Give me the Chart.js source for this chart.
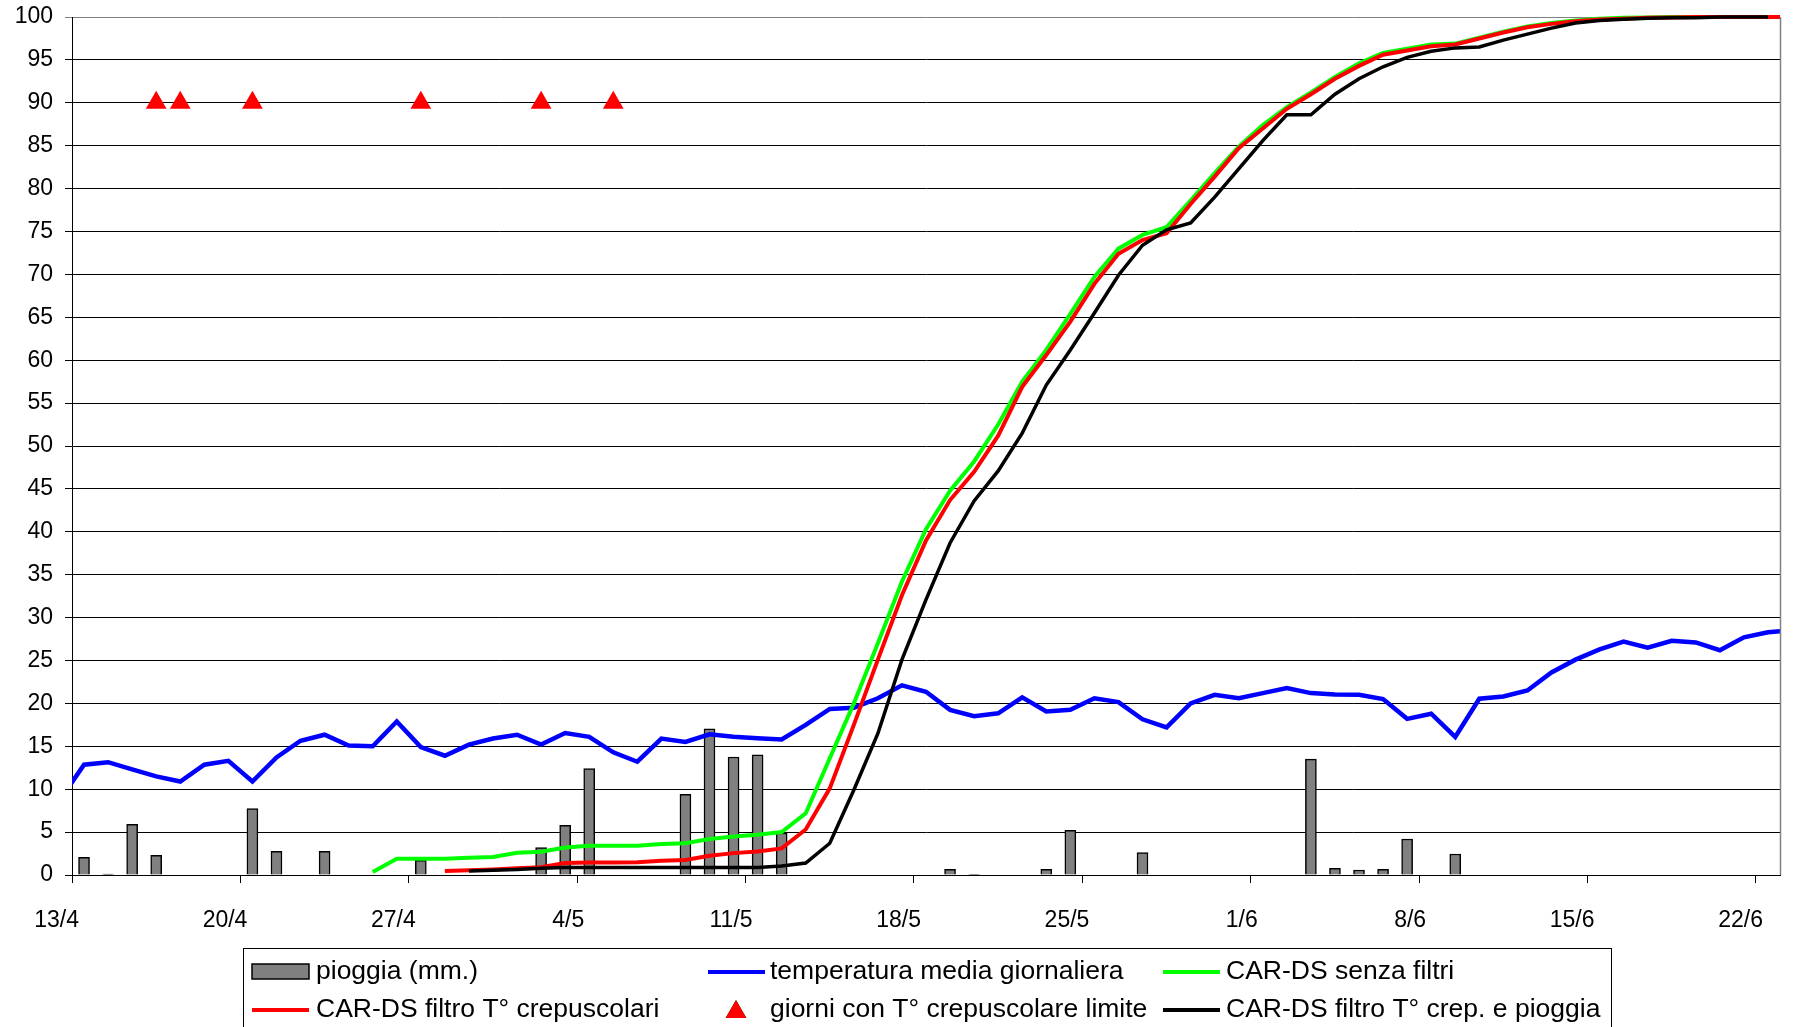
<!DOCTYPE html>
<html>
<head>
<meta charset="utf-8">
<script src="https://cdn.jsdelivr.net/npm/chart.js@4/dist/chart.umd.min.js"></script>
<style>
  html, body { margin: 0; padding: 0; background: #fff; }
  canvas { display: block; }
</style>
</head>
<body>
<canvas id="chart" width="1795" height="1027"></canvas>
<script>
// days, 12/4 .. 23/6 (each value is plotted in the middle of its day)
const dates = [
  '12/4','13/4','14/4','15/4','16/4','17/4','18/4','19/4','20/4','21/4',
  '22/4','23/4','24/4','25/4','26/4','27/4','28/4','29/4','30/4','1/5',
  '2/5','3/5','4/5','5/5','6/5','7/5','8/5','9/5','10/5','11/5',
  '12/5','13/5','14/5','15/5','16/5','17/5','18/5','19/5','20/5','21/5',
  '22/5','23/5','24/5','25/5','26/5','27/5','28/5','29/5','30/5','31/5',
  '1/6','2/6','3/6','4/6','5/6','6/6','7/6','8/6','9/6','10/6',
  '11/6','12/6','13/6','14/6','15/6','16/6','17/6','18/6','19/6','20/6',
  '21/6','22/6','23/6'
];
const tickLabels = ['13/4','20/4','27/4','4/5','11/5','18/5','25/5','1/6','8/6','15/6','22/6'];

// pioggia (mm.)
const rain = [
  0, 2.05, 0.1, 5.9, 2.3, 0, 0, 0, 7.75, 2.75,
  0, 2.75, 0, 0, 0, 1.7, 0, 0, 0, 0,
  3.2, 5.8, 12.4, 0, 0, 0, 9.4, 17.05, 13.75, 14.0,
  4.9, 0, 0, 0, 0, 0, 0, 0.66, 0.08, 0,
  0, 0.66, 5.2, 0, 0, 2.6, 0, 0, 0, 0,
  0, 0, 13.5, 0.78, 0.58, 0.66, 4.2, 0, 2.45, 0,
  0, 0, 0, 0, 0, 0, 0, 0, 0, 0,
  0, 0, 0
];

// temperatura media giornaliera
const tempMedia = [
  8.75, 12.85, 13.15, 12.3, 11.5, 10.9, 12.85, 13.3, 10.9, 13.7,
  15.65, 16.35, 15.1, 15.0, 17.9, 14.9, 13.9, 15.2, 15.9, 16.35,
  15.2, 16.55, 16.1, 14.3, 13.2, 15.9, 15.5, 16.4, 16.1, 15.95,
  15.8, 17.5, 19.35, 19.5, 20.6, 22.1, 21.35, 19.25, 18.5, 18.85,
  20.7, 19.05, 19.25, 20.6, 20.15, 18.15, 17.2, 20.0, 21.0, 20.6,
  21.2, 21.8, 21.2, 21.05, 21.0, 20.5, 18.2, 18.8, 16.1, 20.55,
  20.8, 21.5, 23.6, 25.1, 26.3, 27.2, 26.5, 27.3, 27.1, 26.2,
  27.7, 28.3, 28.5
];

// CAR-DS senza filtri
const carNoFilter = [
  null, null, null, null, null, null, null, null, null, null,
  null, null, null, 0.35, 1.9, 1.9, 1.9, 2.0, 2.1, 2.6,
  2.7, 3.2, 3.4, 3.4, 3.4, 3.6, 3.7, 4.2, 4.5, 4.7,
  5.0, 7.2, 13.6, 20.0, 27.0, 34.2, 40.3, 44.8, 48.2, 52.5,
  57.5, 61.2, 65.4, 69.7, 73.0, 74.6, 75.5, 78.6, 81.8, 84.9,
  87.4, 89.5, 91.2, 93.0, 94.6, 95.8, 96.3, 96.8, 96.9, 97.6,
  98.3, 98.9, 99.3, 99.6, 99.8, 99.9, 99.95, 100, 100, 100,
  100, 100, 100
];

// CAR-DS filtro T° crepuscolari
const carTwilight = [
  null, null, null, null, null, null, null, null, null, null,
  null, null, null, null, null, null, 0.47, 0.55, 0.65, 0.8,
  0.9, 1.4, 1.45, 1.45, 1.5, 1.65, 1.75, 2.25, 2.55, 2.75,
  3.1, 5.3, 10.1, 17.5, 25.1, 32.6, 39.0, 43.7, 47.0, 51.2,
  56.9, 60.6, 64.5, 68.9, 72.4, 74.0, 74.8, 78.2, 81.4, 84.7,
  87.0, 89.3, 91.0, 92.8, 94.3, 95.6, 96.1, 96.6, 96.8, 97.5,
  98.2, 98.8, 99.2, 99.5, 99.7, 99.8, 99.9, 99.95, 100, 100,
  100, 100, 100
];

// CAR-DS filtro T° crep. e pioggia
const carTwilightRain = [
  null, null, null, null, null, null, null, null, null, null,
  null, null, null, null, null, null, null, 0.47, 0.55, 0.65,
  0.78, 0.88, 0.88, 0.88, 0.88, 0.88, 0.88, 0.88, 0.88, 0.88,
  1.05, 1.4, 3.7, 9.9, 16.5, 25.1, 32.1, 38.7, 43.6, 47.1,
  51.5, 57.1, 61.2, 65.5, 69.9, 73.4, 75.2, 76.0, 79.0, 82.3,
  85.6, 88.6, 88.6, 91.0, 92.8, 94.2, 95.3, 96.0, 96.4, 96.5,
  97.3, 98.0, 98.7, 99.3, 99.6, 99.75, 99.85, 99.9, 99.9, 100,
  100, 100, null
];

// giorni con T° crepuscolare limite
const limitDays = ['16/4', '17/4', '20/4', '27/4', '2/5', '5/5'];
const limitLevel = 90;

const FONT = "'Liberation Sans', Arial, sans-serif";

const xy = (arr) => arr.map((v, j) => ({ x: j, y: v }));

// legend drawn in a framed box under the axis, two rows of three
const boxLegend = {
  id: 'boxLegend',
  afterDraw(chart) {
    const ctx = chart.ctx;
    const ds = chart.data.datasets;
    const colX = [252, 708, 1163];
    const textX = [316, 770, 1226];
    const rowY = [972, 1010];
    const items = [
      { i: 0, col: 0, row: 0, kind: 'box' },
      { i: 1, col: 1, row: 0, kind: 'line' },
      { i: 2, col: 2, row: 0, kind: 'line' },
      { i: 3, col: 0, row: 1, kind: 'line' },
      { i: 4, col: 1, row: 1, kind: 'tri' },
      { i: 5, col: 2, row: 1, kind: 'line' }
    ];
    ctx.save();
    ctx.strokeStyle = '#000';
    ctx.lineWidth = 1;
    ctx.strokeRect(243.5, 948.5, 1368, 100);
    ctx.font = '26.5px ' + FONT;
    ctx.textBaseline = 'middle';
    ctx.fillStyle = '#000';
    items.forEach(it => {
      const d = ds[it.i];
      const x = colX[it.col];
      const y = rowY[it.row];
      if (it.kind === 'box') {
        ctx.fillStyle = d.backgroundColor;
        ctx.fillRect(x, y - 8, 57, 15);
        ctx.strokeStyle = '#000';
        ctx.lineWidth = 1.5;
        ctx.strokeRect(x, y - 8, 57, 15);
      } else if (it.kind === 'line') {
        ctx.strokeStyle = d.borderColor;
        ctx.lineWidth = 4;
        ctx.beginPath();
        ctx.moveTo(x, y);
        ctx.lineTo(x + 57, y);
        ctx.stroke();
      } else {
        Chart.helpers.drawPoint(ctx, { pointStyle: 'triangle', radius: 12, borderWidth: 0 }, x + 28, y + 2);
        ctx.fillStyle = d.backgroundColor;
        ctx.fill();
      }
      ctx.fillStyle = '#000';
      ctx.fillText(d.label, textX[it.col], y);
    });
    ctx.restore();
  }
};

// grey frame on the right side of the plot area
const rightFrame = {
  id: 'rightFrame',
  afterDatasetsDraw(chart) {
    const { ctx, chartArea } = chart;
    ctx.save();
    ctx.strokeStyle = '#808080';
    ctx.lineWidth = 1.5;
    ctx.beginPath();
    ctx.moveTo(chartArea.right + 0.5, chartArea.top);
    ctx.lineTo(chartArea.right + 0.5, chartArea.bottom);
    ctx.stroke();
    ctx.restore();
  }
};

const lineClip = { left: 0, right: 0, top: 6, bottom: 6 };

new Chart(document.getElementById('chart').getContext('2d'), {
  type: 'line',
  data: {
    datasets: [
      {
        type: 'bar',
        label: 'pioggia (mm.)',
        data: xy(rain).filter(p => p.y > 0),
        backgroundColor: '#808080',
        borderColor: '#000',
        borderWidth: 1.5,
        borderSkipped: 'bottom',
        barThickness: 11,
        order: 6
      },
      {
        label: 'temperatura media giornaliera',
        data: xy(tempMedia),
        borderColor: '#0000ff',
        borderWidth: 4.5,
        pointRadius: 0,
        clip: lineClip,
        order: 5
      },
      {
        label: 'CAR-DS senza filtri',
        data: xy(carNoFilter),
        borderColor: '#00ff00',
        borderWidth: 4,
        pointRadius: 0,
        clip: lineClip,
        order: 4
      },
      {
        label: 'CAR-DS filtro T° crepuscolari',
        data: xy(carTwilight),
        borderColor: '#ff0000',
        borderWidth: 4,
        pointRadius: 0,
        clip: lineClip,
        order: 3
      },
      {
        label: 'giorni con T° crepuscolare limite',
        data: limitDays.map(d => ({ x: dates.indexOf(d), y: limitLevel })),
        showLine: false,
        pointStyle: 'triangle',
        pointRadius: 12,
        pointBorderWidth: 0,
        backgroundColor: '#ff0000',
        borderColor: '#ff0000',
        order: 2
      },
      {
        label: 'CAR-DS filtro T° crep. e pioggia',
        data: xy(carTwilightRain),
        borderColor: '#000000',
        borderWidth: 3.5,
        pointRadius: 0,
        clip: lineClip,
        order: 1
      }
    ]
  },
  options: {
    responsive: false,
    animation: false,
    devicePixelRatio: 1,
    layout: { padding: { top: 17, right: 15, left: 0, bottom: 0 } },
    plugins: {
      legend: { display: false },
      tooltip: { enabled: false }
    },
    scales: {
      x: {
        type: 'linear',
        bounds: 'data',
        offset: false,
        min: 0.5,
        max: 71.5,
        afterBuildTicks: (scale) => {
          scale.ticks = tickLabels.map((l, m) => ({ value: 0.5 + 7 * m }));
        },
        afterFit: (scale) => {
          scale.height = 152;
          scale.paddingLeft = 0;
          scale.paddingRight = 0;
        },
        grid: { offset: false, drawOnChartArea: false, drawTicks: true, tickLength: 8, color: '#000' },
        border: { color: '#000', width: 1 },
        ticks: {
          autoSkip: false,
          maxRotation: 0,
          align: 'end',
          labelOffset: 7,
          padding: 24,
          color: '#000',
          font: { family: FONT, size: 23 },
          callback: (value, index) => tickLabels[index]
        }
      },
      y: {
        min: 0,
        max: 100,
        afterFit: (scale) => {
          scale.width = 72;
          scale.paddingTop = 0;
          scale.paddingBottom = 0;
        },
        grid: {
          color: (c) => (c.tick && c.tick.value === 100 ? '#808080' : '#000'),
          tickLength: 7
        },
        border: { color: '#000', width: 1 },
        ticks: {
          stepSize: 5,
          padding: 12,
          color: '#000',
          font: { family: FONT, size: 23 }
        }
      }
    }
  },
  plugins: [boxLegend, rightFrame]
});
</script>
</body>
</html>
